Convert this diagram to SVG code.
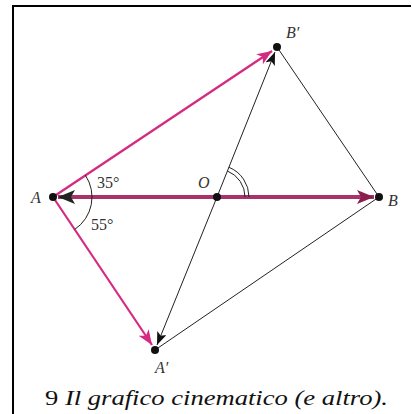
<svg xmlns="http://www.w3.org/2000/svg" width="412" height="414" viewBox="0 0 412 414">
<style>
.lbl{font-family:"Liberation Serif","DejaVu Serif",serif;font-style:italic;font-size:16px;fill:#333}
.num{font-family:"Liberation Serif","DejaVu Serif",serif;font-size:16px;fill:#333}
.thin{stroke:#222;stroke-width:1;fill:none}
.mag{stroke:#d42a7f;stroke-width:2.2;fill:none}
.big{stroke:#a8336b;stroke-width:4;fill:none}
.dot{fill:#111}
</style>
<defs>
<marker id="hm" markerUnits="userSpaceOnUse" markerWidth="16" markerHeight="12" viewBox="0 0 16 12" refX="15" refY="6" orient="auto"><path d="M0,0 L15,6 L0,12 L4,6 Z" fill="#d42a7f"/></marker>
<marker id="hk" markerUnits="userSpaceOnUse" markerWidth="14" markerHeight="10" viewBox="0 0 14 10" refX="13" refY="5" orient="auto"><path d="M0,0 L13,5 L0,10 L3,5 Z" fill="#111"/></marker>
<marker id="hb" markerUnits="userSpaceOnUse" markerWidth="18" markerHeight="14" viewBox="0 0 18 14" refX="17" refY="7" orient="auto"><path d="M0,0 L17,7 L0,14 L4,7 Z" fill="#8a2050"/></marker>
<marker id="ha" markerUnits="userSpaceOnUse" markerWidth="18" markerHeight="14" viewBox="0 0 18 14" refX="17" refY="7" orient="auto"><path d="M0,0 L17,7 L0,14 L4,7 Z" fill="#222"/></marker>
</defs>
<rect width="412" height="414" fill="#fff"/>
<path d="M13,414 V6 H411" fill="none" stroke="#000" stroke-width="2"/>
<g id="connectors">
<line class="thin" x1="277" y1="47" x2="379" y2="197"/>
<line class="thin" x1="379" y1="197" x2="155" y2="350"/>
<line class="thin" x1="217" y1="197" x2="275" y2="52" marker-end="url(#hk)"/>
<line class="thin" x1="217" y1="197" x2="157" y2="345" marker-end="url(#hk)"/>
<line class="big" x1="217" y1="197" x2="374" y2="197" marker-end="url(#hb)"/>
<line class="big" x1="217" y1="197" x2="58" y2="197" marker-end="url(#ha)"/>
<line class="mag" x1="53" y1="197" x2="272" y2="51" marker-end="url(#hm)"/>
<line class="mag" x1="53" y1="197" x2="152" y2="345" marker-end="url(#hm)"/>
<path class="thin" d="M85.4,175.3 A39,39 0 0 1 74.6,229.5"/>
<path class="thin" d="M245,197 A28,28 0 0 0 227.4,171"/>
<path class="thin" d="M249,197 A32,32 0 0 0 228.9,167.3"/>
</g>
<g id="node-A"><circle class="dot" cx="53" cy="197" r="4"/><text class="lbl" x="31" y="203">A</text></g>
<g id="node-O"><circle class="dot" cx="217" cy="197" r="4"/><text class="lbl" x="198" y="188">O</text></g>
<g id="node-B"><circle class="dot" cx="379" cy="197" r="4"/><text class="lbl" x="388" y="206">B</text></g>
<g id="node-Bp"><circle class="dot" cx="277" cy="47" r="4"/><text class="lbl" x="286" y="38">B′</text></g>
<g id="node-Ap"><circle class="dot" cx="155" cy="350" r="4"/><text class="lbl" x="155" y="373">A′</text></g>
<g id="angles"><text class="num" x="97" y="188">35°</text><text class="num" x="91" y="230">55°</text></g>
<text x="45" y="405" textLength="343" lengthAdjust="spacingAndGlyphs" font-family="Liberation Serif,DejaVu Serif,serif" font-size="22" fill="#111">9 <tspan font-style="italic">Il grafico cinematico (e altro).</tspan></text>
</svg>
